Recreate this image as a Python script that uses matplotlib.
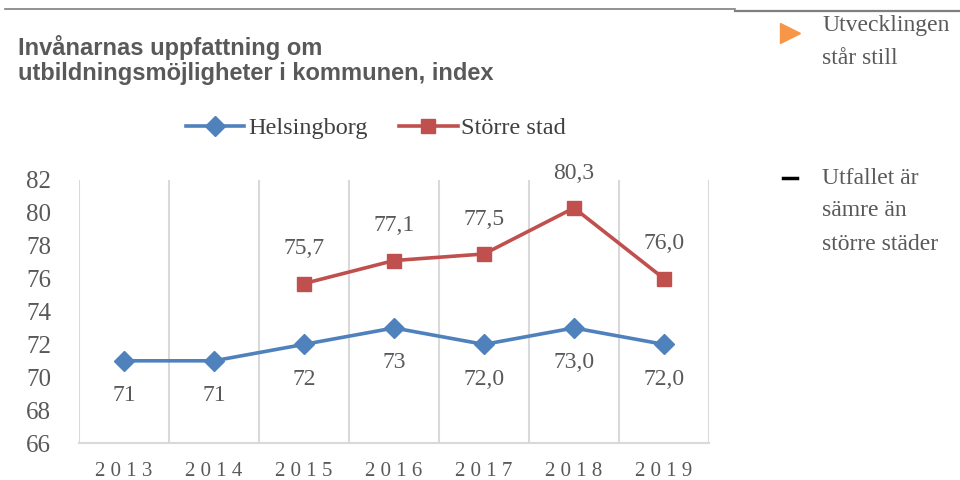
import matplotlib.pyplot as plt
from matplotlib.lines import Line2D

years = ["2013", "2014", "2015", "2016", "2017", "2018", "2019"]
helsingborg = [71, 71, 72, 73, 72, 73, 72]
helsingborg_labels = ["71", "71", "72", "73", "72,0", "73,0", "72,0"]
storre_years = [2, 3, 4, 5, 6]
storre_stad = [75.7, 77.1, 77.5, 80.3, 76.0]
storre_labels = ["75,7", "77,1", "77,5", "80,3", "76,0"]

blue = "#4F81BD"
red = "#C0504D"
grey = "#595959"
serif = "Liberation Serif"

fig = plt.figure(figsize=(9.6, 4.8), dpi=100)
W, H = 960, 480
ax = fig.add_axes([79 / W, (H - 443) / H, 630 / W, (443 - 180) / H])

x = list(range(len(years)))
ax.plot(x, helsingborg, color=blue, lw=2.6, marker="D", ms=10, label="Helsingborg")
ax.plot(storre_years, storre_stad, color=red, lw=2.6, marker="s", ms=10, label="Större stad")

for xi, v, t in zip(x, helsingborg, helsingborg_labels):
    ax.annotate(t, (xi, v), xytext=(0, -25), textcoords="offset points",
                ha="center", va="center", fontsize=17, color=grey, family=serif)
for xi, v, t in zip(storre_years, storre_stad, storre_labels):
    ax.annotate(t, (xi, v), xytext=(0, 25), textcoords="offset points",
                ha="center", va="center", fontsize=17, color=grey, family=serif)

ax.set_xlim(-0.5, 6.5)
ax.set_ylim(66, 82)
ax.set_yticks(range(66, 83, 2))
ax.set_yticklabels([str(v) for v in range(66, 83, 2)], fontsize=18, color=grey, family=serif)
ax.set_xticks(x)
ax.set_xticklabels([" ".join(y) for y in years], fontsize=15, color=grey, family=serif)
ax.tick_params(length=0)
ax.tick_params(axis="y", pad=20)
ax.tick_params(axis="x", pad=14)

ax.set_xticks([i - 0.5 for i in range(len(years) + 1)], minor=True)
ax.tick_params(which="minor", length=0)
ax.grid(which="minor", axis="x", color="#d9d9d9", lw=1.5)
for s in ["top", "right", "left"]:
    ax.spines[s].set_visible(False)
ax.spines["bottom"].set_color("#d9d9d9")
ax.spines["bottom"].set_linewidth(1.5)

fig.legend(loc="center", bbox_to_anchor=(376 / W, 1 - 128 / H), ncol=2, frameon=False,
           prop={"family": serif, "size": 17.5}, labelcolor="#404040", handlelength=2.4,
           columnspacing=1.3, handletextpad=0.15)

fig.text(18 / W, 1 - 60 / H, "Invånarnas uppfattning om\nutbildningsmöjligheter i kommunen, index",
         fontsize=17, fontweight="bold", color=grey, family="Liberation Sans",
         va="center", linespacing=1.1)

fig.add_artist(Line2D([5 / W, 735 / W], [1 - 9 / H, 1 - 9 / H], color="#7f7f7f", lw=1.2))
fig.add_artist(Line2D([735 / W, 1], [1 - 11 / H, 1 - 11 / H], color="#7f7f7f", lw=1.6))

fig.add_artist(Line2D([790 / W], [1 - 33 / H], marker=">", ms=15, color="#F79646", lw=0))
fig.text(822 / W, 1 - 42 / H, "Utvecklingen\nstår still", fontsize=17, color=grey,
         family=serif, va="center", linespacing=1.75)
fig.add_artist(Line2D([783 / W, 797 / W], [1 - 178 / H, 1 - 178 / H], color="black", lw=2.5))
fig.text(822 / W, 1 - 211 / H, "Utfallet är\nsämre än\nstörre städer", fontsize=17, color=grey,
         family=serif, va="center", linespacing=1.75)

fig.savefig("out.png", dpi=100)
